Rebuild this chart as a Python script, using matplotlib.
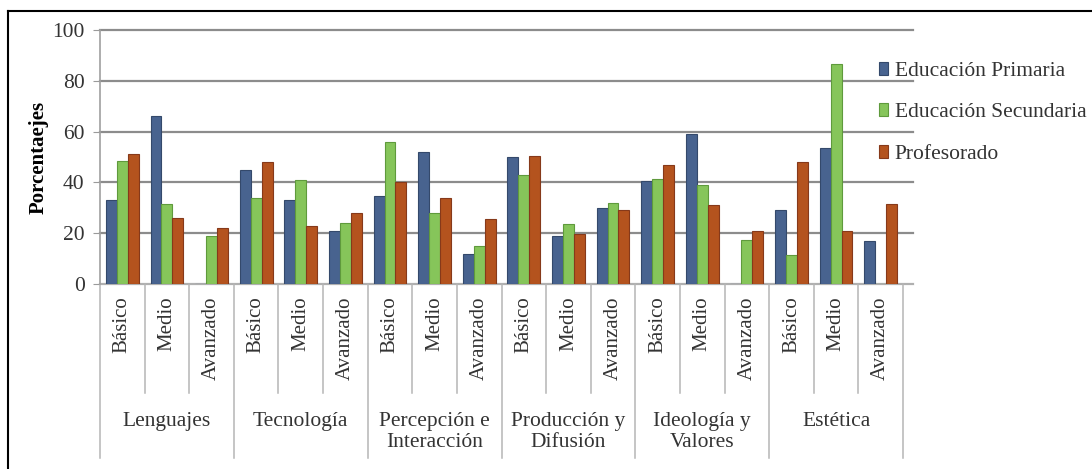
import matplotlib.pyplot as plt
from matplotlib.lines import Line2D
import numpy as np

plt.rcParams['font.family'] = ['Liberation Serif', 'DejaVu Serif']

groups = ["Lenguajes", "Tecnología", "Percepción e\nInteracción",
          "Producción y\nDifusión", "Ideología y\nValores", "Estética"]
levels = ["Básico", "Medio", "Avanzado"]
series = ["Educación Primaria", "Educación Secundaria", "Profesorado"]

primaria = [33, 66, 0, 45, 33, 21, 34.5, 52, 12, 50, 19, 30, 40.5, 59, 0, 29, 53.5, 17]
secundaria = [48.5, 31.5, 19, 34, 41, 24, 56, 28, 15, 43, 23.5, 32, 41.5, 39, 17.5, 11.5, 86.5, 0]
profesorado = [51, 26, 22, 48, 23, 28, 40, 34, 25.5, 50.5, 19.5, 29, 47, 31, 21, 48, 21, 31.5]

colors = ["#48638f", "#86c55a", "#b4531e"]
edges = ["#34496b", "#5f9a3c", "#86391a"]

W, H = 1092, 469
fig = plt.figure(figsize=(W / 100, H / 100), dpi=100)
# axes in pixel terms: x 100..903, y 0 at 284, 100 at 30
ax = fig.add_axes([100 / W, (H - 284) / H, (903 - 100) / W, (284 - 30) / H])

n = len(groups) * len(levels)
x = np.arange(n)
bw = 0.245
for k, vals in enumerate([primaria, secundaria, profesorado]):
    ax.bar(x + (k - 1) * bw, vals, bw, color=colors[k], edgecolor=edges[k],
           linewidth=0.8, label=series[k], zorder=3)

ax.set_xlim(-0.5, n - 0.5)
ax.set_ylim(0, 100)
ax.set_yticks([0, 20, 40, 60, 80, 100])
ax.tick_params(axis='y', labelsize=15.5, length=5, color='#9a9a9a', pad=6)
ax.tick_params(axis='y', labelcolor='#333333')
ax.tick_params(axis='x', bottom=False, labelbottom=False)
for yv in [20, 40, 60, 80, 100]:
    ax.axhline(yv, xmin=0, xmax=1.012, color='#8c8c8c', lw=1.6, zorder=1, clip_on=False)
ax.axhline(0, xmin=0, xmax=1.012, color='#b0b0b0', lw=1.6, zorder=1, clip_on=False)
for s in ['top', 'right', 'bottom']:
    ax.spines[s].set_visible(False)
ax.spines['left'].set_color('#a0a0a0')
ax.spines['left'].set_linewidth(1.2)

ax.set_ylabel("Porcentaejes", fontsize=15, fontweight='bold', labelpad=3)

# category axis: sub-labels, dividers, group labels
tr = ax.get_xaxis_transform()
for i in range(n):
    ax.text(i, -0.05, levels[i % 3], rotation=90, ha='center', va='top',
            fontsize=15, color='#333333', transform=tr)
for i in range(n + 1):
    y_end = -0.685 if i % 3 == 0 else -0.43
    ax.plot([i - 0.5, i - 0.5], [0, y_end], color='#b5b5b5', lw=1.1,
            transform=tr, clip_on=False)
for g, name in enumerate(groups):
    ax.text(3 * g + 1, -0.502, name, ha='center', va='top', fontsize=15.5,
            color='#333333', linespacing=1.15, transform=tr)

leg = ax.legend(loc='upper left', bbox_to_anchor=(870 / W, (H - 53) / H),
                bbox_transform=fig.transFigure, frameon=False, fontsize=15.5,
                handlelength=0.45, handleheight=0.55, handletextpad=0.3,
                labelspacing=1.05, borderaxespad=0)
for t in leg.get_texts():
    t.set_color('#333333')

# outer frame (left and top edges)
fig.add_artist(Line2D([8 / W, 8 / W], [0, (H - 11) / H], color='black', lw=1.5))
fig.add_artist(Line2D([8 / W, 1], [(H - 11) / H, (H - 11) / H], color='black', lw=1.5))

fig.savefig("out.png", dpi=100)
